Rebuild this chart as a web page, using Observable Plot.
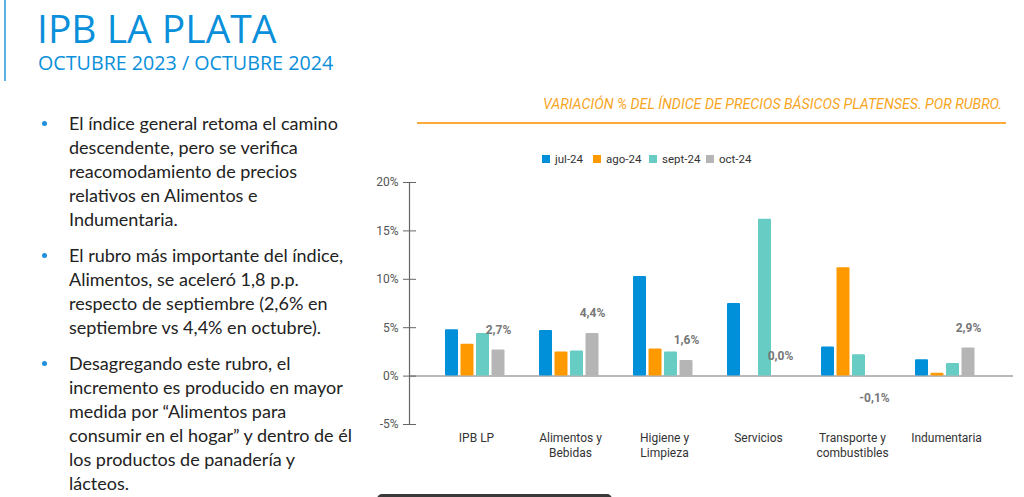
<!DOCTYPE html>
<html>
<head>
<meta charset="utf-8">
<script src="https://cdn.jsdelivr.net/npm/d3@7"></script>
<script src="https://cdn.jsdelivr.net/npm/@observablehq/plot@0.6"></script>
<style>
  html, body { margin: 0; padding: 0; background: #fff; }
  #page { position: relative; width: 1024px; height: 497px; overflow: hidden; background: #fff; }
  .abs { position: absolute; }
  #vline { left: 4px; top: 0; width: 2px; height: 81px; background: #5DB1E6; }
  #title { left: 37px; top: 7px; font-family: "Open Sans"; font-size: 39px; color: #0A90DA; line-height: 42px; white-space: nowrap; }
  #subtitle { left: 38px; top: 51px; font-family: "Open Sans"; font-size: 19.7px; color: #0A90DA; line-height: 24px; white-space: nowrap; }
  #bullets { left: 0; top: 111px; width: 370px; font-family: "Lato"; font-size: 18px; color: #222; }
  .bul { position: relative; padding-left: 69px; line-height: 24px; margin-bottom: 12px; white-space: nowrap; }
  .bul::before { content: ""; position: absolute; left: 42px; top: 10px; width: 5px; height: 5px; border-radius: 50%; background: #1F8FE0; }
  #ctitle { right: 22px; top: 96px; font-family: "Roboto"; font-style: italic; font-size: 14.2px; color: #F7A51E; white-space: nowrap; }
  #cline { left: 417px; top: 122px; width: 589px; height: 2px; background: #FBAA3A; }
  #legend { left: 0; top: 151px; width: 1024px; height: 16px; font-family: "Roboto"; font-size: 11.5px; color: #333; line-height: 16px; }
  .li { position: absolute; top: 0; display: flex; align-items: center; gap: 5px; white-space: nowrap; }
  .sw { width: 8px; height: 8px; }
  #chart { left: 360px; top: 140px; }
  #darkbar { left: 377px; top: 494px; width: 235px; height: 6px; background: #3A3A3A; border-radius: 5px 5px 0 0; }
</style>
</head>
<body>
<div id="page">
  <div id="vline" class="abs"></div>
  <div id="title" class="abs"></div>
  <div id="subtitle" class="abs"></div>
  <div id="bullets" class="abs"></div>
  <div id="ctitle" class="abs"></div>
  <div id="cline" class="abs"></div>
  <div id="legend" class="abs"></div>
  <div id="chart" class="abs"></div>
  <div id="darkbar" class="abs"></div>
</div>
<script>
const titleText = "IPB LA PLATA";
const subtitleText = "OCTUBRE 2023 / OCTUBRE 2024";
const chartTitle = "VARIACIÓN % DEL ÍNDICE DE PRECIOS BÁSICOS PLATENSES. POR RUBRO.";
const bulletLines = [
  ["El índice general retoma el camino", "descendente, pero se verifica", "reacomodamiento de precios", "relativos en Alimentos e", "Indumentaria."],
  ["El rubro más importante del índice,", "Alimentos, se aceleró 1,8 p.p.", "respecto de septiembre (2,6% en", "septiembre vs 4,4% en octubre)."],
  ["Desagregando este rubro, el", "incremento es producido en mayor", "medida por “Alimentos para", "consumir en el hogar” y dentro de él", "los productos de panadería y", "lácteos."]
];

const categories = ["IPB LP", "Alimentos y Bebidas", "Higiene y Limpieza", "Servicios", "Transporte y combustibles", "Indumentaria"];
const tickLabels = ["IPB LP", "Alimentos y\nBebidas", "Higiene y\nLimpieza", "Servicios", "Transporte y\ncombustibles", "Indumentaria"];
const series = ["jul-24", "ago-24", "sept-24", "oct-24"];
const jul24  = [4.8, 4.7, 10.3, 7.5, 3.0, 1.7];
const ago24  = [3.3, 2.5, 2.8, 0.0, 11.2, 0.3];
const sept24 = [4.4, 2.6, 2.5, 16.2, 2.2, 1.3];
const oct24  = [2.7, 4.4, 1.6, 0.0, -0.1, 2.9];
const octLabels = ["2,7%", "4,4%", "1,6%", "0,0%", "-0,1%", "2,9%"];
const yTicks = [-5, 0, 5, 10, 15, 20];
const colors = ["#0090DA", "#FF9900", "#66CCC4", "#B5B5B5"];
const legendX = [542, 593, 649, 706];

document.getElementById("title").textContent = titleText;
document.getElementById("subtitle").textContent = subtitleText;
document.getElementById("ctitle").textContent = chartTitle;
const bEl = document.getElementById("bullets");
bulletLines.forEach(lines => {
  const d = document.createElement("div");
  d.className = "bul";
  d.innerHTML = lines.map(l => l.replace(/&/g, "&amp;")).join("<br>");
  bEl.appendChild(d);
});
const lg = document.getElementById("legend");
series.forEach((s, i) => {
  const it = document.createElement("div");
  it.className = "li";
  it.style.left = legendX[i] + "px";
  it.innerHTML = `<div class="sw" style="background:${colors[i]}"></div><span>${s}</span>`;
  lg.appendChild(it);
});

const allValues = [jul24, ago24, sept24, oct24];
const rows = [];
series.forEach((s, si) => categories.forEach((c, ci) => rows.push({series: s, si, category: c, value: allValues[si][ci]})));
const octRows = categories.map((c, i) => ({category: c, value: oct24[i], label: octLabels[i]}));

const bandW = 95, barW = 14, barStep = 15.5, firstInset = 16;

const plot = Plot.plot({
  width: 664,
  height: 330,
  marginLeft: 49,
  marginRight: 11,
  marginTop: 42,
  marginBottom: 46,
  style: {fontFamily: "Roboto", fontSize: "12px", background: "transparent", overflow: "visible"},
  x: {domain: categories, paddingInner: 0, paddingOuter: 0.179, axis: null},
  y: {domain: [-5, 20], axis: null},
  marks: [
    Plot.ruleY([0], {stroke: "#A0A0A0", strokeWidth: 1.5}),
    ...series.map((s, i) => Plot.barY(rows.filter(d => d.si === i), {
      x: "category", y: "value", fill: colors[i], rx: 1,
      insetLeft: firstInset + barStep * i,
      insetRight: bandW - firstInset - barW - barStep * i
    })),
    Plot.text(octRows.filter(d => d.value >= 0), {x: "category", y: "value", text: "label", dx: 22, dy: -20, fill: "#777", fontWeight: "bold", fontSize: 12}),
    Plot.text(octRows.filter(d => d.value < 0), {x: "category", y: "value", text: "label", dx: 22, dy: 21, fill: "#777", fontWeight: "bold", fontSize: 12}),
    Plot.text(categories, {x: d => d, text: (d, i) => tickLabels[i], frameAnchor: "bottom", lineAnchor: "top", dy: 7, lineHeight: 1.25, fill: "#333", fontSize: 12}),
    Plot.frame({anchor: "left", stroke: "#666", strokeWidth: 1.2}),
    Plot.axisY(yTicks, {tickSize: 0, tickPadding: 11, tickFormat: d => d + "%", fill: "#555", fontSize: 12, label: null}),
    Plot.axisY(yTicks, {tickSize: 13, dx: 7, tickFormat: () => "", stroke: "#666", label: null})
  ]
});
document.getElementById("chart").appendChild(plot);
</script>
</body>
</html>
